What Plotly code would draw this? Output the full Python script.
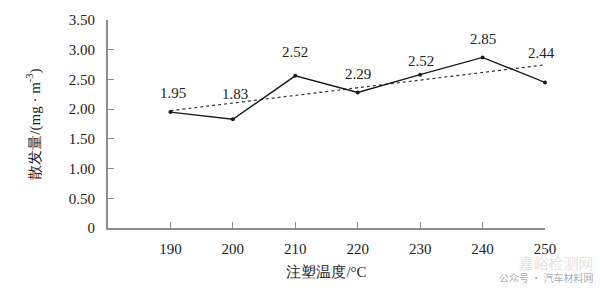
import numpy as np
import plotly.graph_objects as go

temps = [190, 200, 210, 220, 230, 240, 250]
emission = [1.95, 1.83, 2.56, 2.28, 2.58, 2.87, 2.45]
labels = ["1.95", "1.83", "2.52", "2.29", "2.52", "2.85", "2.44"]
label_shift = [19, 25, 24, 19, 14, 18, 29]
label_xshift = [3, 2, 0, 0, 1, 0, -4]
ytick_vals = [0, 0.5, 1.0, 1.5, 2.0, 2.5, 3.0, 3.5]
ytick_text = ["0", "0.50", "1.00", "1.50", "2.00", "2.50", "3.00", "3.50"]

coef = np.polyfit(temps, emission, 1)
trend = [coef[0] * t + coef[1] for t in temps]

FONT = "Liberation Serif"
AX = "#8c8c8c"

fig = go.Figure()
fig.add_trace(go.Scatter(x=temps, y=trend, mode="lines", cliponaxis=False,
                         line=dict(color="#333333", width=1.2, dash="dot"),
                         hoverinfo="skip"))
fig.add_trace(go.Scatter(x=temps, y=emission, mode="lines+markers", cliponaxis=False,
                         line=dict(color="#1a1a1a", width=1.4),
                         marker=dict(size=4, color="#1a1a1a")))

for t, v, lab, dy, dx in zip(temps, emission, labels, label_shift, label_xshift):
    fig.add_annotation(x=t, y=v, text=lab, showarrow=False, yshift=dy, xshift=dx,
                       font=dict(family=FONT, size=15, color="#222222"))

# watermark (single block, lower right)
fig.add_annotation(xref="paper", yref="paper", x=1.115, y=-0.283,
                   xanchor="right", yanchor="bottom", align="right",
                   text="<span style='font-size:15px;color:rgba(150,150,150,0.45)'>嘉峪检测网</span><br>公众号 · 汽车材料网",
                   showarrow=False,
                   font=dict(family="Noto Sans CJK SC", size=10, color="rgba(120,120,120,0.65)"))

fig.update_layout(
    width=600, height=290,
    margin=dict(l=108, r=55, t=12, b=62),
    paper_bgcolor="white", plot_bgcolor="white",
    showlegend=False,
    font=dict(family=FONT, size=15, color="#222222"),
)
fig.update_xaxes(range=[180, 250], tickvals=temps, ticks="inside", ticklen=6,
                 tickcolor=AX, showline=True, linecolor=AX, linewidth=2,
                 showgrid=False, zeroline=False, ticklabelstandoff=6,
                 title=dict(text="注塑温度/°C", standoff=10,
                            font=dict(family=FONT, size=15)))
fig.update_yaxes(range=[0, 3.5], tickvals=ytick_vals, ticktext=ytick_text,
                 ticks="inside", ticklen=6, tickcolor=AX, showline=True,
                 linecolor=AX, linewidth=2, showgrid=False, zeroline=False,
                 ticklabelstandoff=8,
                 title=dict(text="散发量/(mg · m<sup>-3</sup>)", standoff=25,
                            font=dict(family=FONT, size=15)))

fig.write_html("out.html")
